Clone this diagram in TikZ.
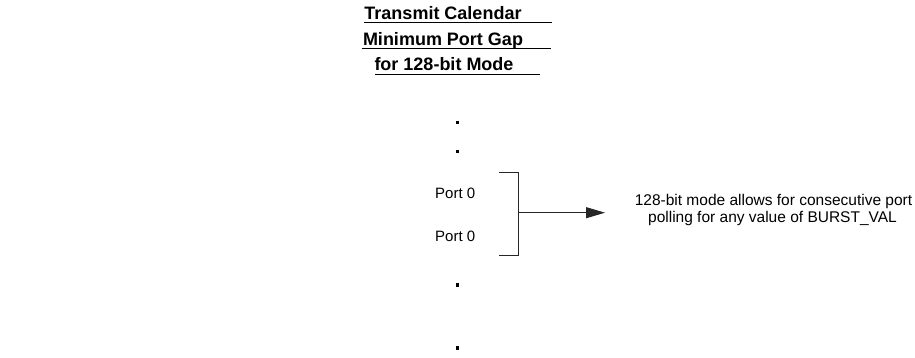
\documentclass[tikz,border=0pt]{standalone}
\usepackage{fontspec}
\setmainfont{Liberation Sans}
\usetikzlibrary{arrows.meta}
\begin{document}
\begin{tikzpicture}[x=1pt,y=-1pt,
  titletext/.style={font=\fontsize{18}{22}\selectfont\bfseries,inner sep=0pt,anchor=base},
  porttext/.style={font=\fontsize{15}{18}\selectfont,inner sep=0pt,anchor=base west},
  notetext/.style={font=\fontsize{15.5}{18}\selectfont,inner sep=0pt,anchor=base},
  uline/.style={line width=1pt},
  dotmark/.style={fill=black,draw=none,minimum size=3.4pt,inner sep=0pt,rectangle},
  bracketline/.style={line width=1pt,draw=black!85},
  arrowline/.style={line width=1pt,draw=black!85,-{Triangle[length=19pt,width=11pt]}}]
\useasboundingbox (0,0) rectangle (915,358);
% title
\node[titletext] (t1) at (443,19.5) {Transmit Calendar};
\node[titletext] (t2) at (443,45.5) {Minimum Port Gap};
\node[titletext] (t3) at (444,71) {for 128-bit Mode};
\draw[uline] (364,22.8) -- (552,22.8);
\draw[uline] (362,48.8) -- (551,48.8);
\draw[uline] (375,74.2) -- (540,74.2);
% dots
\node[dotmark] (d1) at (457.7,122.7) {};
\node[dotmark] (d2) at (457.7,151.7) {};
\node[dotmark] (d3) at (457.7,285) {};
\node[dotmark] (d4) at (457.7,348) {};
% ports
\node[porttext] (p1) at (435,198) {Port 0};
\node[porttext] (p2) at (435,241) {Port 0};
% bracket
\coordinate (bt) at (499,173);
\coordinate (btr) at (518,173);
\coordinate (bbr) at (518,255);
\coordinate (bb) at (499,255);
\coordinate (bm) at (518,212.7);
\coordinate (ae) at (605,212.7);
\draw[bracketline] (bt) -- (btr) -- (bbr) -- (bb);
\draw[arrowline] (bm) -- (ae);
% note
\node[notetext] (n1) at (773.5,205.5) {128-bit mode allows for consecutive port};
\node[notetext] (n2) at (772.5,222.5) {polling for any value of BURST\_VAL};
\end{tikzpicture}
\end{document}
